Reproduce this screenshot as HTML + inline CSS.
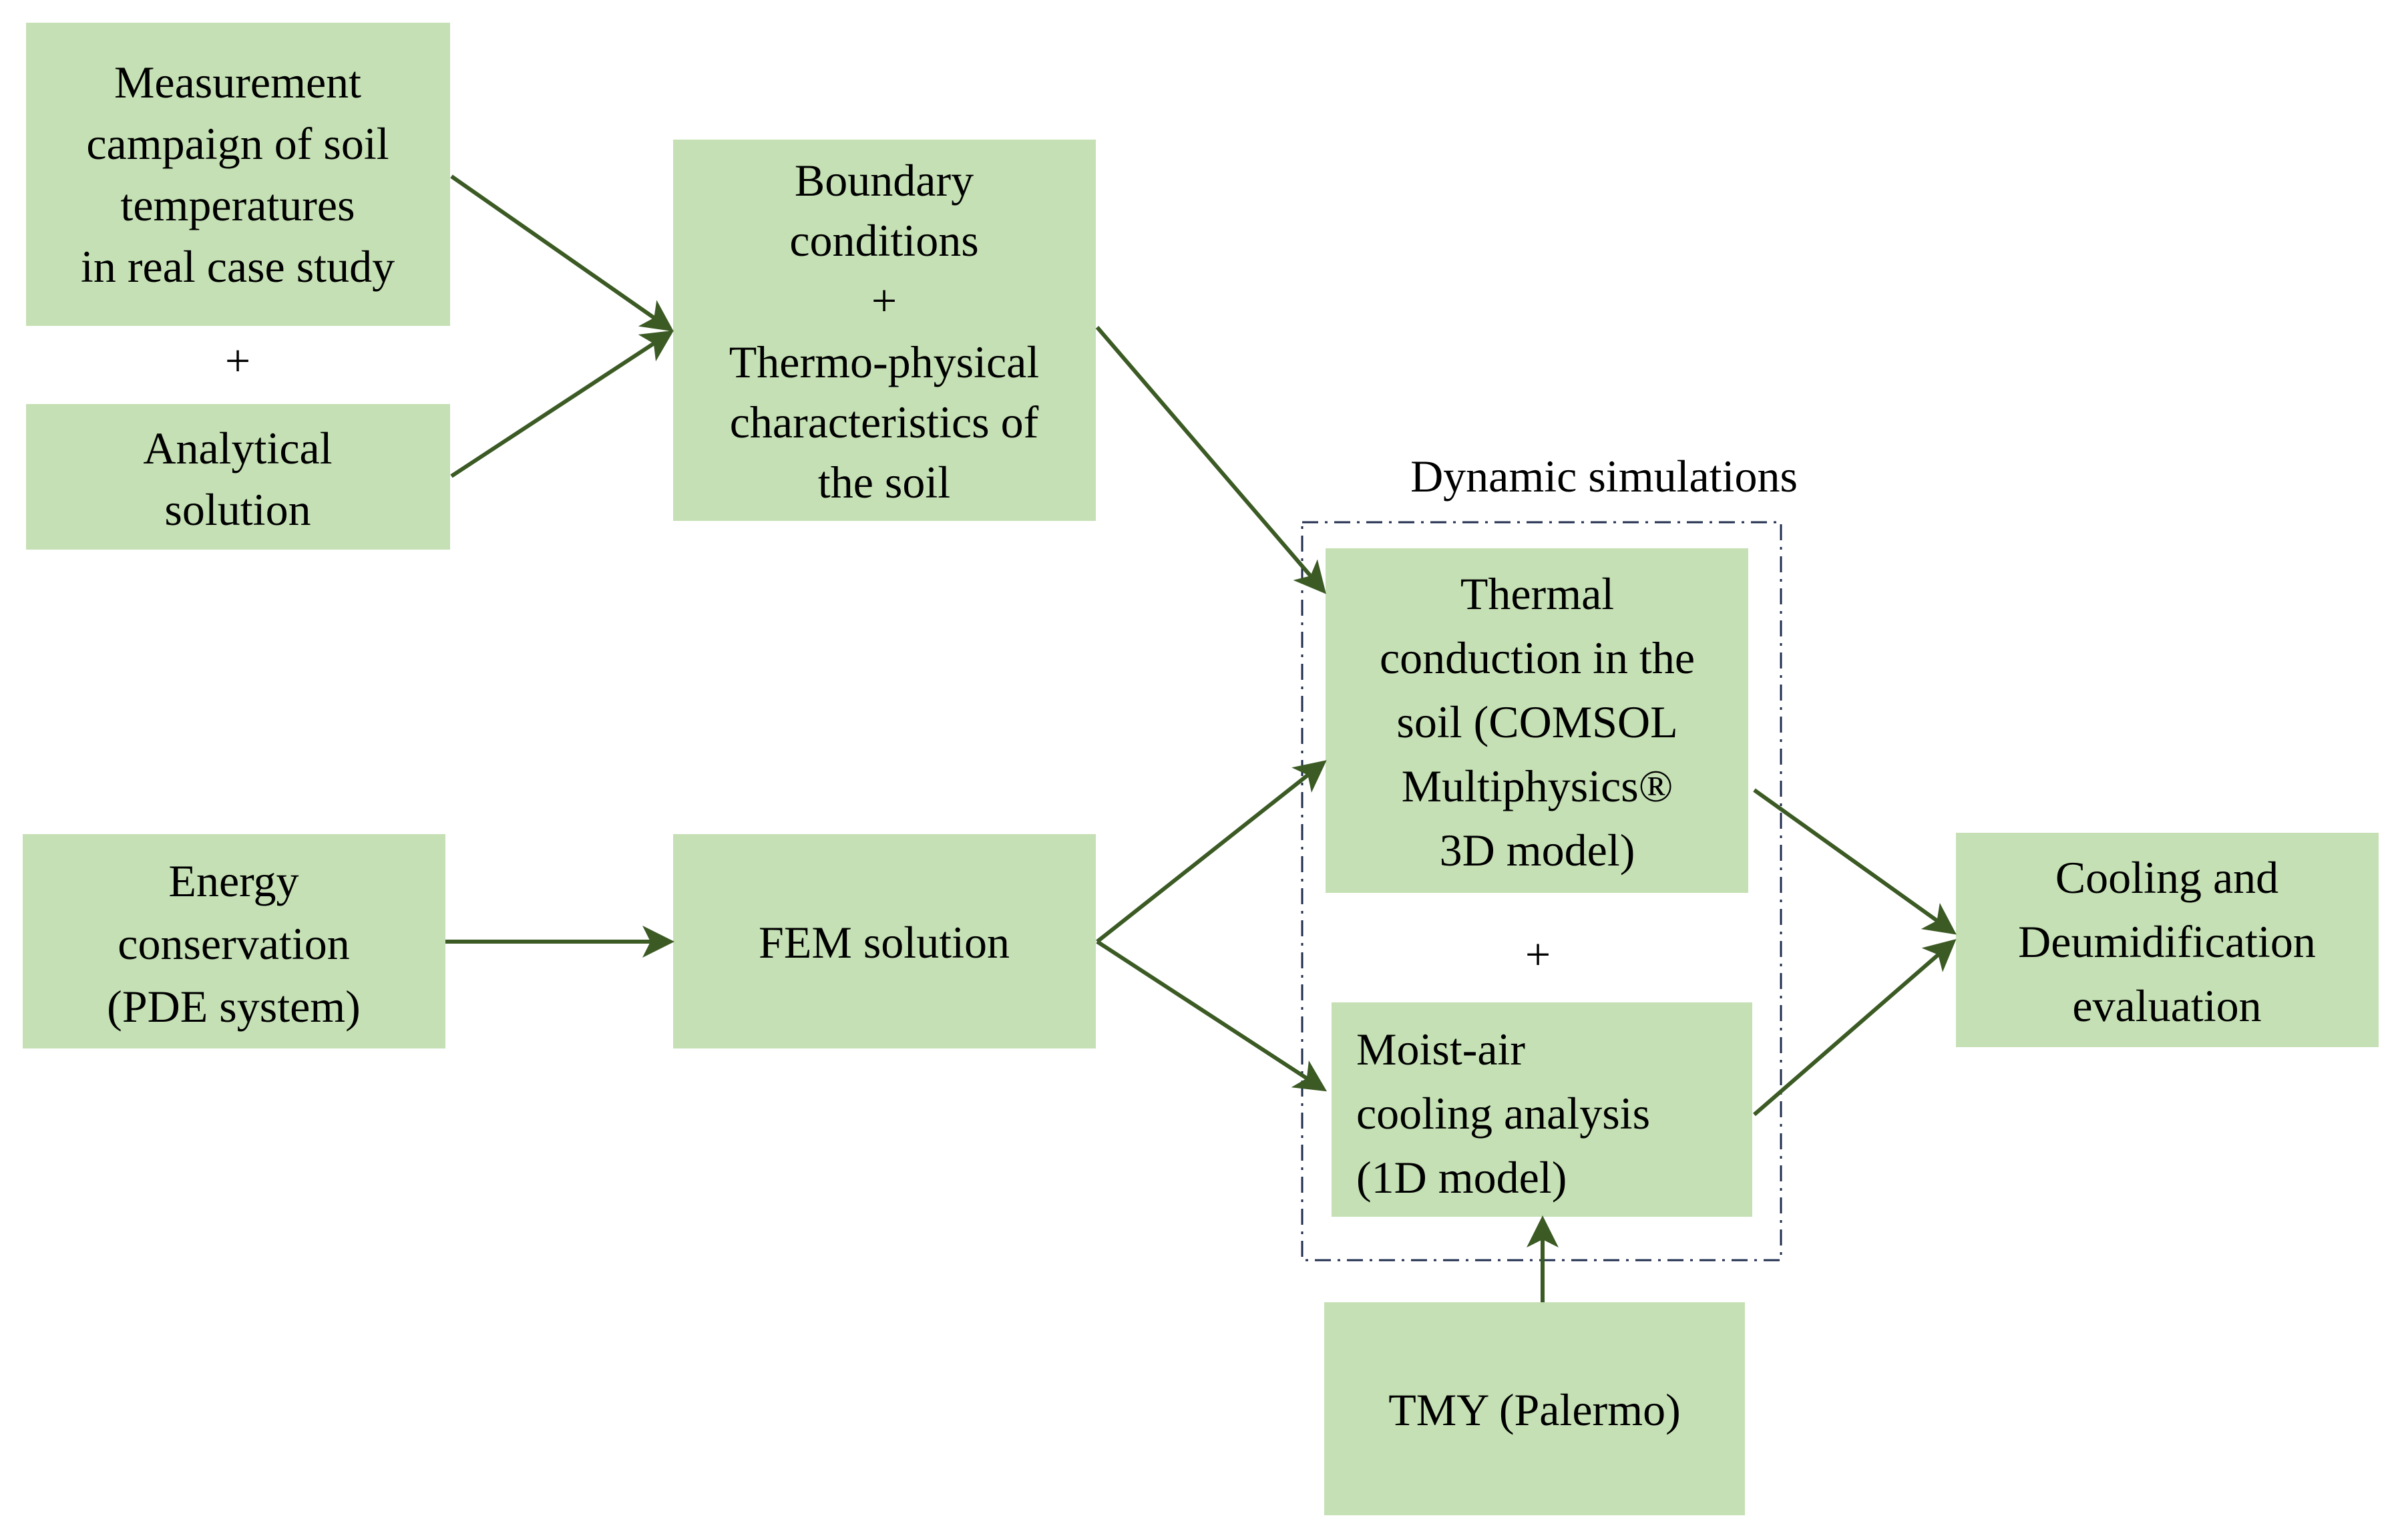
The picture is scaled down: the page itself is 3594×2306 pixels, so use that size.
<!DOCTYPE html>
<html><head><meta charset="utf-8"><style>
html,body{margin:0;padding:0;background:#fff}
svg{display:block}
text{font-family:"Liberation Serif",serif;font-size:68px;fill:#000}
</style></head><body>
<svg width="3594" height="2306" viewBox="0 0 3594 2306" xmlns="http://www.w3.org/2000/svg">
<defs>
<marker id="ah" markerWidth="8" markerHeight="8" refX="7" refY="4" orient="auto" markerUnits="strokeWidth">
<path d="M0,0 L8,4 L0,8 L2,4 z" fill="#3b5a24"/>
</marker>
</defs>
<g fill="#c5e0b4">
<rect x="39" y="34" width="635" height="454"/>
<rect x="39" y="605" width="635" height="218"/>
<rect x="1008" y="209" width="633" height="571"/>
<rect x="34" y="1249" width="633" height="321"/>
<rect x="1008" y="1249" width="633" height="321"/>
<rect x="1985" y="821" width="633" height="516"/>
<rect x="1994" y="1501" width="630" height="321"/>
<rect x="1983" y="1950" width="630" height="319"/>
<rect x="2929" y="1247" width="633" height="321"/>
</g>
<rect x="1950" y="782" width="717" height="1105" fill="none" stroke="#1f2d4e" stroke-width="3" stroke-dasharray="24,10,4,10"/>
<g stroke="#3b5a24" stroke-width="6" fill="none" marker-end="url(#ah)">
<line x1="676" y1="264" x2="1004" y2="493"/>
<line x1="676" y1="713" x2="1004" y2="498"/>
<line x1="1643" y1="490" x2="1982" y2="885"/>
<line x1="667" y1="1410" x2="1004" y2="1410"/>
<line x1="1643" y1="1410" x2="1982" y2="1142"/>
<line x1="1643" y1="1410" x2="1982" y2="1631"/>
<line x1="2627" y1="1183" x2="2925" y2="1396"/>
<line x1="2627" y1="1669" x2="2925" y2="1410"/>
<line x1="2310" y1="1950" x2="2310" y2="1826"/>
</g>
<g text-anchor="middle">
<text x="356" y="146">Measurement</text>
<text x="356" y="238">campaign of soil</text>
<text x="356" y="330">temperatures</text>
<text x="356" y="422">in real case study</text>
<text x="356" y="563" font-family="Liberation Sans" font-size="60">+</text>
<text x="356" y="694">Analytical</text>
<text x="356" y="786">solution</text>
<text x="1324" y="293">Boundary</text>
<text x="1324" y="383">conditions</text>
<text x="1324" y="473">+</text>
<text x="1324" y="565">Thermo-physical</text>
<text x="1324" y="655">characteristics of</text>
<text x="1324" y="745">the soil</text>
<text x="350" y="1342">Energy</text>
<text x="350" y="1436">conservation</text>
<text x="350" y="1530">(PDE system)</text>
<text x="1324" y="1434">FEM solution</text>
<text x="2402" y="736" font-size="52">Dynamic simulations</text>
<text x="2302" y="912">Thermal</text>
<text x="2302" y="1008">conduction in the</text>
<text x="2302" y="1104">soil (COMSOL</text>
<text x="2302" y="1200">Multiphysics®</text>
<text x="2302" y="1296">3D model)</text>
<text x="2303" y="1452" font-family="Liberation Sans" font-size="60">+</text>
<text x="2298" y="2134">TMY (Palermo)</text>
<text x="3245" y="1337">Cooling and</text>
<text x="3245" y="1433">Deumidification</text>
<text x="3245" y="1529">evaluation</text>
</g>
<text x="2031" y="1594">Moist-air</text>
<text x="2031" y="1690">cooling analysis</text>
<text x="2031" y="1786">(1D model)</text>
</svg>
</body></html>
